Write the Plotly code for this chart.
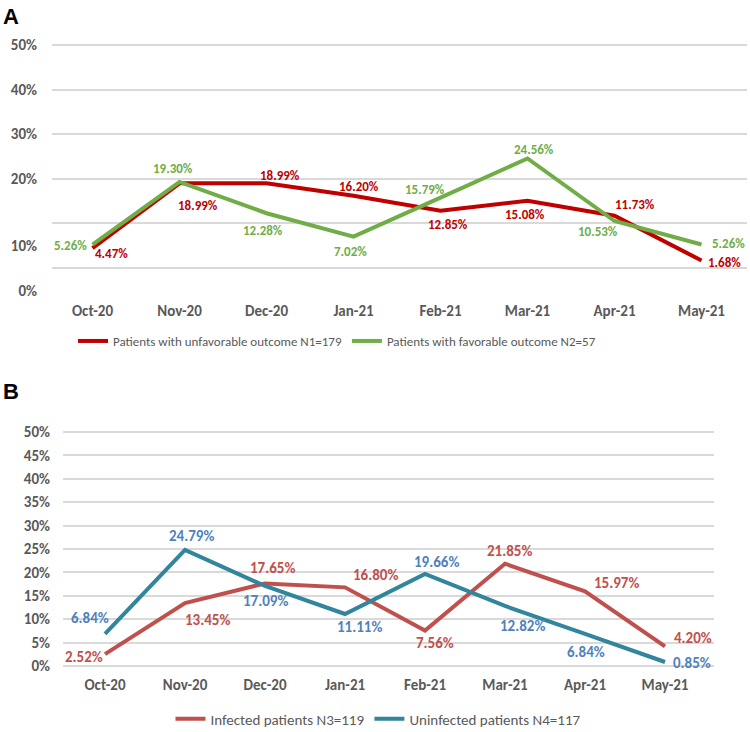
import plotly.graph_objects as go

months = ["Oct-20", "Nov-20", "Dec-20", "Jan-21", "Feb-21", "Mar-21", "Apr-21", "May-21"]

# Panel A
unfavorable = [4.47, 18.99, 18.99, 16.20, 12.85, 15.08, 11.73, 1.68]
favorable = [5.26, 19.30, 12.28, 7.02, 15.79, 24.56, 10.53, 5.26]
# Panel B
infected = [2.52, 13.45, 17.65, 16.80, 7.56, 21.85, 15.97, 4.20]
uninfected = [6.84, 24.79, 17.09, 11.11, 19.66, 12.82, 6.84, 0.85]

name_a1 = "Patients with unfavorable outcome N1=179"
name_a2 = "Patients with favorable outcome N2=57"
name_b1 = "Infected patients N3=119"
name_b2 = "Uninfected patients N4=117"

a_tick_labels = ["0%", "10%", "20%", "30%", "40%", "50%"]
b_tick_labels = ["0%", "5%", "10%", "15%", "20%", "25%", "30%", "35%", "40%", "45%", "50%"]

# label offsets in pixels (dx right, dy down) relative to each point
off_a1 = [(19, 5), (18, 22), (13, -8), (5, -9), (7, 14), (-3, 14), (20, -11), (23, 2)]
off_a2 = [(-22, 1), (-7, -13), (-4, 17), (-3, 15), (-16, -8), (6, -9), (-17, 10), (27, -1)]
off_b1 = [(-21, 3), (22, 17), (7, -15), (30, -12), (10, 12), (4, -13), (31, -8), (28, -8)]
off_b2 = [(-15, -16), (6, -14), (0, 15), (14, 13), (11, -12), (17, 20), (1, 18), (27, 1)]

FONT = "Carlito, 'Open Sans', 'Noto Sans', sans-serif"
GREY = "#595959"
GRID = "#D9D9D9"

W, H = 750, 732

fig = go.Figure()

series = [
    (unfavorable, name_a1, "#C00000", "#C00000", "x", "y", "legend", off_a1, 13),
    (favorable, name_a2, "#70AD47", "#70AD47", "x", "y", "legend", off_a2, 13),
    (infected, name_b1, "#C0504D", "#C0504D", "x2", "y2", "legend2", off_b1, 15),
    (uninfected, name_b2, "#31859C", "#4F81BD", "x2", "y2", "legend2", off_b2, 15),
]

annotations = []
for vals, name, lc, tc, xa, ya, lg, offs, fs in series:
    fig.add_trace(go.Scatter(
        x=months, y=vals, name=name, mode="lines",
        line=dict(color=lc, width=4), xaxis=xa, yaxis=ya, legend=lg,
        cliponaxis=False))
    for m, v, (dx, dy) in zip(months, vals, offs):
        annotations.append(dict(
            x=m, y=v, xref=xa, yref=ya, text=f"{v:.2f}%", showarrow=False,
            xanchor="center", yanchor="middle", xshift=dx, yshift=-dy,
            font=dict(family=FONT, size=fs, color=tc, weight="bold")))

# invisible trace so the label axis of panel A is drawn
fig.add_trace(go.Scatter(x=months, y=[None] * len(months), xaxis="x", yaxis="y3",
                         showlegend=False, hoverinfo="skip", mode="lines"))

tickfont = dict(family=FONT, size=15, color=GREY, weight="bold")

annotations += [
    dict(text="<b>A</b>", x=1 / W, y=(H - 16) / H, xref="paper", yref="paper",
         xanchor="left", yanchor="middle", showarrow=False,
         font=dict(family="Liberation Sans, Arial, sans-serif", size=22, color="black")),
    dict(text="<b>B</b>", x=1 / W, y=(H - 392) / H, xref="paper", yref="paper",
         xanchor="left", yanchor="middle", showarrow=False,
         font=dict(family="Liberation Sans, Arial, sans-serif", size=22, color="black")),
]

fig.update_layout(
    width=W, height=H,
    margin=dict(l=0, r=0, t=0, b=0, autoexpand=False),
    paper_bgcolor="white", plot_bgcolor="white",
    font=dict(family=FONT, color=GREY),
    xaxis=dict(domain=[52 / W, 747 / W], anchor="y", type="category",
               showgrid=False, showline=False, zeroline=False, tickfont=tickfont,
               ticks="", automargin=False, ticklabelstandoff=3),
    yaxis=dict(domain=[0.5943, 0.9507], anchor="x", range=[-6.5, 52],
               tickvals=[0, 10, 20, 30, 40, 50], showticklabels=False,
               showgrid=True, gridcolor=GRID, gridwidth=1.5, zeroline=False, automargin=False),
    yaxis3=dict(overlaying="y", anchor="x", side="left", range=[-6.5, 52],
                tickvals=[-5, 5, 20, 30, 40, 50], ticktext=a_tick_labels,
                showgrid=False, zeroline=False, tickfont=tickfont,
                ticklabelstandoff=14, automargin=False),
    xaxis2=dict(domain=[63 / W, 714 / W], anchor="y2", type="category",
                showgrid=False, showline=False, zeroline=False, tickfont=tickfont,
                ticks="", automargin=False),
    yaxis2=dict(domain=[0.0787, 0.4194], anchor="x2", range=[-1.8, 51.5],
                tickvals=[0, 5, 10, 15, 20, 25, 30, 35, 40, 45, 50], ticktext=b_tick_labels,
                showgrid=True, gridcolor=GRID, gridwidth=1.5, zeroline=False,
                tickfont=tickfont, ticklabelstandoff=12, automargin=False),
    legend=dict(orientation="h", x=337 / W, xanchor="center", y=(H - 341) / H, yanchor="middle",
                font=dict(family=FONT, size=13, color=GREY), bgcolor="rgba(0,0,0,0)"),
    legend2=dict(orientation="h", x=378 / W, xanchor="center", y=(H - 719) / H, yanchor="middle",
                 font=dict(family=FONT, size=15, color=GREY), bgcolor="rgba(0,0,0,0)"),
    annotations=annotations,
    showlegend=True,
)

fig.write_html("out.html", config={"displayModeBar": False},
               post_script="document.body.style.margin='0px';document.body.style.padding='0px';")
